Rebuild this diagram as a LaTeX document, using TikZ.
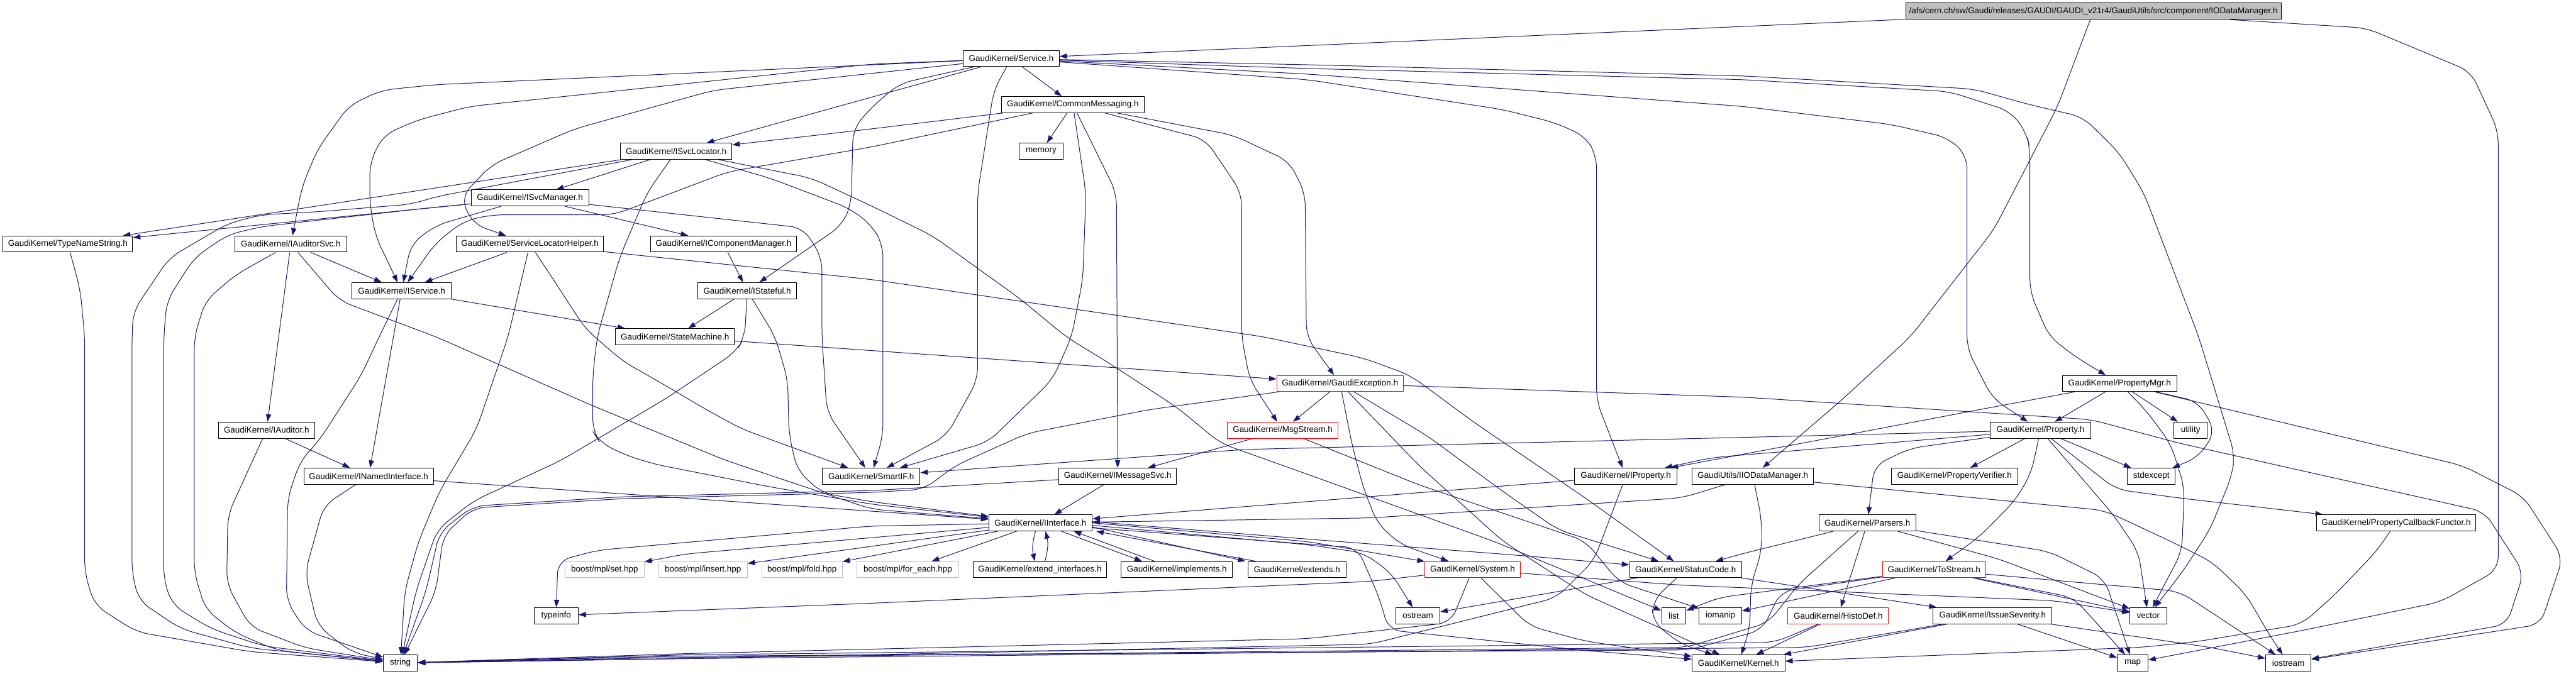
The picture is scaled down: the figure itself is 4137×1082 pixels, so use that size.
\documentclass[tikz,border=0pt]{standalone}
\usepackage{fontspec}
\setmainfont{Liberation Sans}
\usetikzlibrary{arrows.meta}
\definecolor{edgeblue}{HTML}{191970}
\definecolor{rootgray}{HTML}{BFBFBF}
\definecolor{extgray}{HTML}{BFBFBF}
\newcommand{\hdrfont}{\fontsize{6.8}{8}\selectfont}
\pgfdeclarelayer{edges}
\pgfsetlayers{edges,main}

\begin{document}
\begin{tikzpicture}[x=0.5pt, y=-0.5pt, line join=round,
  hdr/.style={draw=black, fill=white, line width=0.5pt, minimum height=13pt, inner sep=0pt, font=\hdrfont},
  hdrred/.style={hdr, draw=red},
  hdrext/.style={hdr, draw=extgray},
  hdrroot/.style={hdr, fill=rootgray},
  dep/.style={draw=edgeblue, line width=0.5pt, rounded corners=10pt, -{Triangle[length=6pt,width=4.2pt]}}]
  \useasboundingbox (0,0) rectangle (4137,1082);

  \node[hdrroot, minimum width=301.5pt] (root) at (3362,18) {/afs/cern.ch/sw/Gaudi/releases/GAUDI/GAUDI\_v21r4/GaudiUtils/src/component/IODataManager.h};
  \node[hdr, minimum width=77pt] (svc) at (1624,94) {GaudiKernel/Service.h};
  \node[hdr, minimum width=114.5pt] (cmsg) at (1723,168) {GaudiKernel/CommonMessaging.h};
  \node[hdr, minimum width=35.5pt] (memory) at (1672,243) {memory};
  \node[hdr, minimum width=89.5pt] (isvcloc) at (1086,243) {GaudiKernel/ISvcLocator.h};
  \node[hdr, minimum width=94.5pt] (isvcmgr) at (851,318) {GaudiKernel/ISvcManager.h};
  \node[hdr, minimum width=104pt] (typename) at (109,392) {GaudiKernel/TypeNameString.h};
  \node[hdr, minimum width=90pt] (iauditsvc) at (467,392) {GaudiKernel/IAuditorSvc.h};
  \node[hdr, minimum width=118.5pt] (slhelper) at (851,392) {GaudiKernel/ServiceLocatorHelper.h};
  \node[hdr, minimum width=117pt] (icompmgr) at (1162,392) {GaudiKernel/IComponentManager.h};
  \node[hdr, minimum width=79.5pt] (iservice) at (645,467) {GaudiKernel/IService.h};
  \node[hdr, minimum width=79.5pt] (istateful) at (1200,467) {GaudiKernel/IStateful.h};
  \node[hdr, minimum width=95.5pt] (statemach) at (1084,541) {GaudiKernel/StateMachine.h};
  \node[hdrred, minimum width=101.5pt] (gexc) at (2152,616) {GaudiKernel/GaudiException.h};
  \node[hdr, minimum width=92pt] (propmgr) at (3404,616) {GaudiKernel/PropertyMgr.h};
  \node[hdr, minimum width=77pt] (iauditor) at (428,691) {GaudiKernel/IAuditor.h};
  \node[hdrred, minimum width=89pt] (msgstream) at (2060,691) {GaudiKernel/MsgStream.h};
  \node[hdr, minimum width=26.5pt] (utility) at (3518,691) {utility};
  \node[hdr, minimum width=80.5pt] (property) at (3277,691) {GaudiKernel/Property.h};
  \node[hdr, minimum width=104pt] (inamed) at (592,765) {GaudiKernel/INamedInterface.h};
  \node[hdr, minimum width=78.5pt] (smartif) at (1399,765) {GaudiKernel/SmartIF.h};
  \node[hdr, minimum width=94.5pt] (imsgsvc) at (1795,765) {GaudiKernel/IMessageSvc.h};
  \node[hdr, minimum width=82pt] (iproperty) at (2611,765) {GaudiKernel/IProperty.h};
  \node[hdr, minimum width=97.5pt] (iiodm) at (2815,765) {GaudiUtils/IIODataManager.h};
  \node[hdr, minimum width=101.5pt] (propverif) at (3139,765) {GaudiKernel/PropertyVerifier.h};
  \node[hdr, minimum width=38.5pt] (stdexcept) at (3455,765) {stdexcept};
  \node[hdr, minimum width=83pt] (iinterface) at (1671,840) {GaudiKernel/IInterface.h};
  \node[hdr, minimum width=78pt] (parsers) at (2999,840) {GaudiKernel/Parsers.h};
  \node[hdr, minimum width=127.5pt] (propcb) at (3848,840) {GaudiKernel/PropertyCallbackFunctor.h};
  \node[hdrext, minimum width=63.5pt] (bset) at (971,915) {boost/mpl/set.hpp};
  \node[hdrext, minimum width=71pt] (binsert) at (1129,915) {boost/mpl/insert.hpp};
  \node[hdrext, minimum width=64.5pt] (bfold) at (1288,915) {boost/mpl/fold.hpp};
  \node[hdrext, minimum width=81.5pt] (bforeach) at (1458,915) {boost/mpl/for\_each.hpp};
  \node[hdr, minimum width=107.5pt] (extifs) at (1670,915) {GaudiKernel/extend\_interfaces.h};
  \node[hdr, minimum width=89.5pt] (implements) at (1890,915) {GaudiKernel/implements.h};
  \node[hdr, minimum width=78.5pt] (extends) at (2083,915) {GaudiKernel/extends.h};
  \node[hdrred, minimum width=76.5pt] (system) at (2365,915) {GaudiKernel/System.h};
  \node[hdr, minimum width=90pt] (statuscode) at (2707,915) {GaudiKernel/StatusCode.h};
  \node[hdrred, minimum width=83pt] (tostream) at (3106,915) {GaudiKernel/ToStream.h};
  \node[hdr, minimum width=35.5pt] (typeinfo) at (893,989) {typeinfo};
  \node[hdr, minimum width=35.5pt] (ostream) at (2277,989) {ostream};
  \node[hdr, minimum width=19.5pt] (list) at (2688,989) {list};
  \node[hdr, minimum width=34pt] (iomanip) at (2763,989) {iomanip};
  \node[hdrred, minimum width=81pt] (histodef) at (2952,989) {GaudiKernel/HistoDef.h};
  \node[hdr, minimum width=95.5pt] (issuesev) at (3200,989) {GaudiKernel/IssueSeverity.h};
  \node[hdr, minimum width=29.5pt] (vector) at (3450,989) {vector};
  \node[hdr, minimum width=27.5pt] (string) at (643,1065) {string};
  \node[hdr, minimum width=74.5pt] (kernel) at (2792,1065) {GaudiKernel/Kernel.h};
  \node[hdr, minimum width=24.5pt] (map) at (3425,1065) {map};
  \node[hdr, minimum width=36.5pt] (iostream) at (3675,1065) {iostream};

  \begin{pgfonlayer}{edges}
  \draw[dep] (root) -- (svc);
  \draw[dep] (root) -- (3304,172) -- (3202,369) -- (3068,541) -- (2956,644) -- (iiodm);
  \draw[dep] (root) -- (3800,45) -- (3968,115) -- (4012,210) -- (4012,915) -- (3919,967) -- (3696,1013) -- (map);

  \draw[dep] (svc) -- (cmsg);
  \draw[dep] (svc) -- (isvcloc);
  \draw[dep] (svc) -- (700,136) -- (612,145) -- (560,170) -- (510,240) -- (485,300) -- (iauditsvc);
  \draw[dep] (svc) -- (1146,145) -- (923,207) -- (789,265) -- (740,317) -- (760,360) -- (slhelper);
  \draw[dep] (svc) -- (1400,103) -- (754,171) -- (670,193) -- (616,217) -- (594,260) -- (594,328) -- (603,379) -- (iservice);
  \draw[dep] (svc) -- (1445,134) -- (1400,172) -- (1370,207) -- (1367,328) -- (1352,362) -- (istateful);
  \draw[dep] (svc) -- (1596,145) -- (1570,310) -- (1570,610) -- (1520,700) -- (smartif);
  \draw[dep] (svc) -- (2100,104) -- (2800,122) -- (3170,143) -- (3255,167) -- (3345,188) -- (3403,245) -- (3443,310) -- (3531,541) -- (3589,731) -- (3584,765) -- (3549,851) -- (3504,920) -- (vector);
  \draw[dep] (svc) -- (2100,110) -- (2800,128) -- (3130,147) -- (3229,179) -- (3255,214) -- (3260,241) -- (3260,469) -- (3291,541) -- (3336,575) -- (propmgr);
  \draw[dep] (svc) -- (2100,119) -- (2800,171) -- (3037,200) -- (3128,221) -- (3159,250) -- (3159,560) -- (3200,640) -- (property);
  \draw[dep] (svc) -- (2100,128) -- (2413,176) -- (2497,197) -- (2546,219) -- (2564,250) -- (2564,644) -- (iproperty);

  \draw[dep] (cmsg) -- (memory);
  \draw[dep] (cmsg) -- (1400,207) -- (isvcloc);
  \draw[dep] (cmsg) -- (1400,236) -- (1169,276) -- (986,345) -- (790,345) -- (745,355) -- (700,390) -- (iservice);
  \draw[dep] (cmsg) -- (1744,310) -- (1739,448) -- (1721,541) -- (1690,610) -- (1587,710) -- (smartif);
  \draw[dep] (cmsg) -- (1793,310) -- (imsgsvc);
  \draw[dep] (cmsg) -- (1936,224) -- (1994,310) -- (1994,541) -- (2007,610) -- (msgstream);
  \draw[dep] (cmsg) -- (1980,217) -- (2070,259) -- (2096,310) -- (2098,541) -- (gexc);

  \draw[dep] (isvcloc) -- (isvcmgr);
  \draw[dep] (isvcloc) -- (typename);
  \draw[dep] (isvcloc) -- (700,316) -- (661,328) -- (513,340) -- (420,345) -- (366,359) -- (272,414) -- (214,500) -- (212,541) -- (212,920) -- (223,965) -- (290,1010) -- (402,1041) -- (string);
  \draw[dep] (isvcloc) -- (1039,310) -- (995,414) -- (959,541) -- (952,603) -- (952,693) -- (963,710) -- (999,729) -- (1048,745) -- (1236,782) -- (1400,810) -- (iinterface);
  \draw[dep] (isvcloc) -- (1236,286) -- (1365,335) -- (1400,362) -- (1418,393) -- (1418,700) -- (smartif);
  \draw[dep] (isvcloc) -- (1303,286) -- (1400,331) -- (1498,379) -- (1570,431) -- (1637,479) -- (1712,541) -- (1779,582) -- (1891,655) -- (1960,712) -- (2100,762) -- (2400,870) -- (list);

  \draw[dep] (isvcmgr) -- (icompmgr);
  \draw[dep] (isvcmgr) -- (typename);
  \draw[dep] (isvcmgr) -- (700,333) -- (670,336) -- (420,364) -- (366,377) -- (312,414) -- (268,483) -- (263,541) -- (263,931) -- (277,972) -- (339,1010) -- (424,1038) -- (string);
  \draw[dep] (isvcmgr) -- (700,362) -- (660,392) -- (iservice);
  \draw[dep] (isvcmgr) -- (1290,366) -- (1320,414) -- (1320,541) -- (1328,662) -- (smartif);

  \draw[dep] (typename) -- (129,466) -- (136,541) -- (136,920) -- (152,972) -- (219,1015) -- (402,1047) -- (string);
  \draw[dep] (iauditsvc) -- (iservice);
  \draw[dep] (iauditsvc) -- (iauditor);
  \draw[dep] (iauditsvc) -- (379,441) -- (330,483) -- (312,541) -- (312,920) -- (330,979) -- (379,1017) -- (446,1045) -- (string);
  \draw[dep] (iauditsvc) -- (545,483) -- (700,541) -- (950,651) -- (1164,739) -- (1400,818) -- (iinterface);

  \draw[dep] (iservice) -- (inamed);
  \draw[dep] (iservice) -- (609,541) -- (580,603) -- (513,707) -- (482,741) -- (462,800) -- (460,965) -- (491,1013) -- (string);
  \draw[dep] (iservice) -- (statemach);
  \draw[dep] (iauditor) -- (inamed);
  \draw[dep] (iauditor) -- (366,827) -- (364,938) -- (402,1007) -- (491,1041) -- (string);
  \draw[dep] (inamed) -- (iinterface);
  \draw[dep] (inamed) -- (520,812) -- (490,920) -- (510,1005) -- (565,1048) -- (string);

  \draw[dep] (slhelper) -- (iservice);
  \draw[dep] (slhelper) -- (816,541) -- (765,690) -- (706,789) -- (672,870) -- (650,950) -- (string);
  \draw[dep] (slhelper) -- (888,448) -- (940,528) -- (1000,580) -- (1070,620) -- (1129,655) -- (1191,689) -- (smartif);
  \draw[dep] (slhelper) -- (1400,449) -- (2029,541) -- (2189,575) -- (2265,603) -- (2368,679) -- (2546,800) -- (statuscode);
  \draw[dep] (icompmgr) -- (istateful);
  \draw[dep] (istateful) -- (statemach);
  \draw[dep] (istateful) -- (1245,541) -- (1265,610) -- (1267,696) -- (1280,755) -- (1320,792) -- (1400,806) -- (iinterface);
  \draw[dep] (istateful) -- (1196,541) -- (1182,565) -- (1070,640) -- (900,740) -- (760,805) -- (702,851) -- (668,950) -- (string);
  \draw[dep] (statemach) -- (gexc);

  \draw[dep] (gexc) -- (msgstream);
  \draw[dep] (gexc) -- (2171,713) -- (2189,782) -- (2212,841) -- (2250,875) -- (system);
  \draw[dep] (gexc) -- (2279,748) -- (2413,869) -- (2546,955) -- (kernel);
  \draw[dep] (gexc) -- (2292,700) -- (2413,789) -- (2502,851) -- (statuscode);
  \draw[dep] (gexc) -- (2800,638) -- (3358,674) -- (3500,712) -- (3990,822) -- (4053,920) -- (4026,1003) -- (iostream);
  \draw[dep] (gexc) -- (1846,658) -- (1650,696) -- (1534,748) -- (1484,786) -- (1400,791) -- (1000,801) -- (760,816) -- (712,860) -- (700,950) -- (string);

  \draw[dep] (msgstream) -- (imsgsvc);
  \draw[dep] (msgstream) -- (2279,779) -- (2546,869) -- (2600,935) -- (iomanip);
  \draw[dep] (imsgsvc) -- (iinterface);
  \draw[dep] (imsgsvc) -- (1400,788) -- (1000,798) -- (760,813) -- (706,855) -- (684,950) -- (string);
  \draw[dep] (iproperty) -- (iinterface);
  \draw[dep] (iproperty) -- (2560,900) -- (2500,960) -- (2200,1035) -- (1100,1058) -- (string);
  \draw[dep] (iiodm) -- (2700,800) -- (2200,832) -- (iinterface);
  \draw[dep] (iiodm) -- (2829,834) -- (2829,886) -- (2812,940) -- (2810,1010) -- (kernel);
  \draw[dep] (iiodm) -- (3380,820) -- (3491,872) -- (3553,903) -- (3607,955) -- (3647,1024) -- (iostream);

  \draw[dep] (property) -- (propverif);
  \draw[dep] (property) -- (stdexcept);
  \draw[dep] (property) -- (3262,760) -- (3237,803) -- (3179,862) -- (tostream);
  \draw[dep] (property) -- (3394,827) -- (3434,886) -- (vector);
  \draw[dep] (property) -- (3398,786) -- (3500,800) -- (propcb);
  \draw[dep] (property) -- (3068,720) -- (3010,748) -- (parsers);
  \draw[dep] (property) -- (2750,735) -- (iproperty);
  \draw[dep] (property) -- (2000,722) -- (smartif);

  \draw[dep] (propmgr) -- (property);
  \draw[dep] (propmgr) -- (3179,658) -- (2979,696) -- (iproperty);
  \draw[dep] (propmgr) -- (utility);
  \draw[dep] (propmgr) -- (3447,660) -- (3486,713) -- (3508,782) -- (3504,886) -- (vector);
  \draw[dep] (propmgr) -- (3530,645) -- (3558,693) -- (3530,735) -- (stdexcept);
  \draw[dep] (propmgr) -- (3955,748) -- (4053,798) -- (4116,896) -- (4080,1003) -- (iostream);

  \draw[dep] (parsers) -- (histodef);
  \draw[dep] (parsers) -- (2800,889) -- (statuscode);
  \draw[dep] (parsers) -- (3210,898) -- (vector);
  \draw[dep] (parsers) -- (3291,886) -- (3380,930) -- (map);
  \draw[dep] (parsers) -- (2889,938) -- (2840,1000) -- (2708,1040) -- (1100,1056) -- (string);

  \draw[dep] (tostream) -- (iomanip);
  \draw[dep] (tostream) -- (2760,960) -- (list);
  \draw[dep] (tostream) -- (2860,950) -- (2830,1012) -- (2712,1044) -- (1100,1054) -- (string);
  \draw[dep] (tostream) -- (vector);
  \draw[dep] (tostream) -- (3330,960) -- (map);
  \draw[dep] (tostream) -- (3500,950) -- (iostream);

  \draw[dep] (histodef) -- (kernel);
  \draw[dep] (histodef) -- (2850,1032) -- (1100,1052) -- (string);
  \draw[dep] (issuesev) -- (kernel);
  \draw[dep] (issuesev) -- (map);
  \draw[dep] (issuesev) -- (3550,1040) -- (iostream);
  \draw[dep] (issuesev) -- (2900,1040) -- (1100,1058) -- (string);

  \draw[dep] (statuscode) -- (ostream);
  \draw[dep] (statuscode) -- (2654,965) -- (2654,999) -- (2700,1035) -- (kernel);
  \draw[dep] (statuscode) -- (issuesev);

  \draw[dep] (system) -- (2200,934) -- (1400,969) -- (typeinfo);
  \draw[dep] (system) -- (2330,1000) -- (2100,1026) -- (1100,1050) -- (string);
  \draw[dep] (system) -- (2457,1006) -- (2546,1030) -- (kernel);
  \draw[dep] (system) -- (2700,940) -- (3300,965) -- (vector);

  \draw[dep] (iinterface) -- (1100,890) -- (bset);
  \draw[dep] (iinterface) -- (binsert);
  \draw[dep] (iinterface) -- (bfold);
  \draw[dep] (iinterface) -- (bforeach);
  \draw[dep] ([xshift=-4pt]iinterface.south) to[bend right=15] ([xshift=-4pt]extifs.north);
  \draw[dep] ([xshift=4pt]extifs.north) to[bend right=15] ([xshift=4pt]iinterface.south);
  \draw[dep] ([xshift=-25pt]iinterface.south east) -- ([xshift=-28pt]implements.north);
  \draw[dep] ([xshift=-18pt]implements.north) -- ([xshift=-15pt]iinterface.south east);
  \draw[dep] ([yshift=3.5pt]iinterface.south east) -- ([xshift=-2pt]extends.north west);
  \draw[dep] ([xshift=6pt]extends.north west) -- ([xshift=3pt]iinterface.south east);
  \draw[dep] (iinterface.east) -- (2100,870) -- (system);
  \draw[dep] ([yshift=1pt]iinterface.east) -- (2100,866) -- (2450,893) -- (statuscode);
  \draw[dep] ([yshift=-2pt]iinterface.east) -- (2100,875) -- (2189,888) -- (2234,920) -- (ostream);
  \draw[dep] (iinterface) -- (1400,845) -- (959,884) -- (896,901) -- (typeinfo);
  \draw[dep] ([yshift=-4pt]iinterface.east) -- (2180,880) -- (2215,960) -- (2230,1012) -- (2546,1045) -- (kernel);

  \draw[dep] (propcb) -- (3816,886) -- (3750,955) -- (3696,1003) -- (3526,1031) -- (3437,1040) -- (kernel);
  \end{pgfonlayer}
\end{tikzpicture}
\end{document}
